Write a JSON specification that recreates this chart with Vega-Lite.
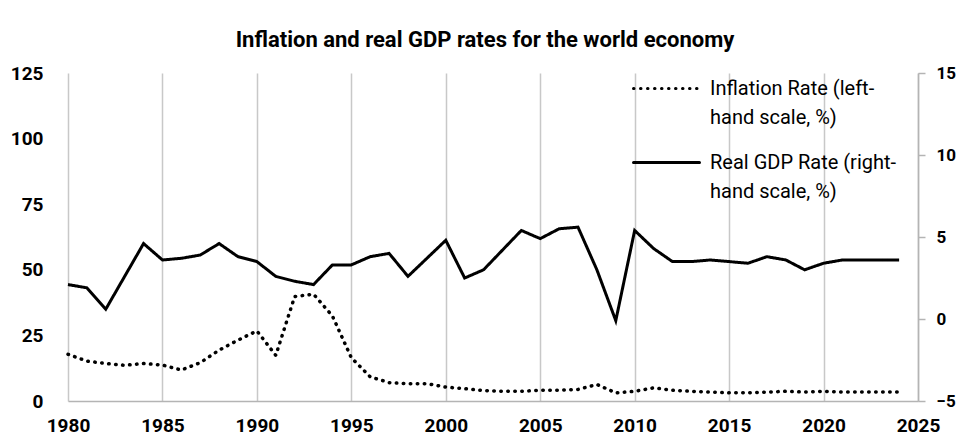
{
  "$schema": "https://vega.github.io/schema/vega-lite/v6.json",
  "width": 850,
  "height": 328,
  "autosize": {"type": "none"},
  "padding": {"left": 68, "top": 73, "right": 38, "bottom": 38},
  "background": "white",
  "title": {
    "text": "Inflation  and real GDP rates for the world economy",
    "font": "Roboto",
    "fontSize": 22,
    "fontWeight": "bold",
    "color": "black",
    "anchor": "middle",
    "dx": -8,
    "offset": 2
  },
  "data": {
    "values": [
      {"year": 1980, "inflation": 17.8, "gdp": 2.1},
      {"year": 1981, "inflation": 15.2, "gdp": 1.9},
      {"year": 1982, "inflation": 14.3, "gdp": 0.6},
      {"year": 1983, "inflation": 13.6, "gdp": 2.6},
      {"year": 1984, "inflation": 14.3, "gdp": 4.6},
      {"year": 1985, "inflation": 13.7, "gdp": 3.6},
      {"year": 1986, "inflation": 11.8, "gdp": 3.7},
      {"year": 1987, "inflation": 14.6, "gdp": 3.9},
      {"year": 1988, "inflation": 19.4, "gdp": 4.6},
      {"year": 1989, "inflation": 23.2, "gdp": 3.8},
      {"year": 1990, "inflation": 26.7, "gdp": 3.5},
      {"year": 1991, "inflation": 17.4, "gdp": 2.6},
      {"year": 1992, "inflation": 39.8, "gdp": 2.3},
      {"year": 1993, "inflation": 40.7, "gdp": 2.1},
      {"year": 1994, "inflation": 32.4, "gdp": 3.3},
      {"year": 1995, "inflation": 16.5, "gdp": 3.3},
      {"year": 1996, "inflation": 9.2, "gdp": 3.8},
      {"year": 1997, "inflation": 7.0, "gdp": 4.0},
      {"year": 1998, "inflation": 6.6, "gdp": 2.6},
      {"year": 1999, "inflation": 6.6, "gdp": 3.7},
      {"year": 2000, "inflation": 5.3, "gdp": 4.8},
      {"year": 2001, "inflation": 4.7, "gdp": 2.5},
      {"year": 2002, "inflation": 4.0, "gdp": 3.0},
      {"year": 2003, "inflation": 3.7, "gdp": 4.2},
      {"year": 2004, "inflation": 3.7, "gdp": 5.4},
      {"year": 2005, "inflation": 4.1, "gdp": 4.9},
      {"year": 2006, "inflation": 4.1, "gdp": 5.5},
      {"year": 2007, "inflation": 4.4, "gdp": 5.6},
      {"year": 2008, "inflation": 6.3, "gdp": 3.0},
      {"year": 2009, "inflation": 3.1, "gdp": -0.1},
      {"year": 2010, "inflation": 3.7, "gdp": 5.4},
      {"year": 2011, "inflation": 5.0, "gdp": 4.3},
      {"year": 2012, "inflation": 4.1, "gdp": 3.5},
      {"year": 2013, "inflation": 3.7, "gdp": 3.5},
      {"year": 2014, "inflation": 3.4, "gdp": 3.6},
      {"year": 2015, "inflation": 3.1, "gdp": 3.5},
      {"year": 2016, "inflation": 3.1, "gdp": 3.4},
      {"year": 2017, "inflation": 3.4, "gdp": 3.8},
      {"year": 2018, "inflation": 3.7, "gdp": 3.6},
      {"year": 2019, "inflation": 3.4, "gdp": 3.0},
      {"year": 2020, "inflation": 3.7, "gdp": 3.4},
      {"year": 2021, "inflation": 3.4, "gdp": 3.6},
      {"year": 2022, "inflation": 3.4, "gdp": 3.6},
      {"year": 2023, "inflation": 3.4, "gdp": 3.6},
      {"year": 2024, "inflation": 3.4, "gdp": 3.6}
    ]
  },
  "encoding": {
    "x": {
      "field": "year",
      "type": "quantitative",
      "scale": {"domain": [1980, 2025], "nice": false, "zero": false},
      "axis": {
        "title": null,
        "values": [1980, 1985, 1990, 1995, 2000, 2005, 2010, 2015, 2020, 2025],
        "format": "d",
        "grid": true,
        "gridColor": "#c8c8c8",
        "gridWidth": 1.5,
        "domain": true,
        "domainColor": "#b4b4b4",
        "domainWidth": 1.5,
        "ticks": false,
        "labelPadding": 15,
        "labelFont": "Roboto",
        "labelFontSize": 19,
        "labelFontWeight": "bold",
        "labelColor": "black",
        "labelFlush": false,
        "labelOverlap": false
      }
    }
  },
  "layer": [
    {
      "mark": {"type": "line", "color": "black", "strokeWidth": 3.5, "strokeCap": "round"},
      "encoding": {
        "y": {
          "field": "inflation",
          "type": "quantitative",
          "scale": {"domain": [0, 125], "nice": false},
          "axis": {
            "title": null,
            "orient": "left",
            "values": [0, 25, 50, 75, 100, 125],
            "grid": false,
            "domain": false,
            "ticks": false,
            "labelPadding": 25,
            "labelFont": "Roboto",
            "labelFontSize": 19,
            "labelFontWeight": "bold",
            "labelColor": "black",
            "labelFlush": false,
            "labelOverlap": false
          }
        },
        "strokeDash": {
          "datum": "Inflation Rate (left-hand scale, %)",
          "type": "nominal",
          "scale": {
            "domain": ["Inflation Rate (left-hand scale, %)", "Real GDP Rate (right-hand scale, %)"],
            "range": [[0.5, 6.5], [1, 0]]
          },
          "legend": {
            "orient": "none",
            "legendX": 564,
            "legendY": -19,
            "title": null,
            "padding": 0,
            "symbolType": "stroke",
            "symbolSize": 4356,
            "symbolStrokeWidth": 3,
            "symbolStrokeColor": "black",
            "labelFont": "Roboto",
            "labelFontSize": 20,
            "labelColor": "black",
            "labelOffset": 9,
            "labelLimit": 0,
            "rowPadding": 0,
            "labelExpr": "datum.label == 'Inflation Rate (left-hand scale, %)' ? ['Inflation Rate (left-', 'hand scale, %)'] : ['Real GDP Rate (right-', 'hand scale, %)']",
            "encode": {
              "labels": {"update": {"lineHeight": {"value": 29}}},
              "symbols": {"update": {"strokeCap": {"value": "round"}}}
            }
          }
        }
      }
    },
    {
      "mark": {"type": "line", "color": "black", "strokeWidth": 3, "strokeJoin": "miter"},
      "encoding": {
        "y": {
          "field": "gdp",
          "type": "quantitative",
          "scale": {"domain": [-5, 15], "nice": false, "zero": false},
          "axis": {
            "title": null,
            "orient": "right",
            "values": [-5, 0, 5, 10, 15],
            "grid": false,
            "domain": true,
            "domainColor": "#b4b4b4",
            "domainWidth": 1.5,
            "ticks": true,
            "tickColor": "#b4b4b4",
            "tickWidth": 1.5,
            "tickSize": 7,
            "labelPadding": 11,
            "labelAlign": "left",
            "labelFont": "Roboto",
            "labelFontSize": 17,
            "labelFontWeight": "bold",
            "labelColor": "black",
            "labelFlush": false,
            "labelOverlap": false
          }
        },
        "strokeDash": {"datum": "Real GDP Rate (right-hand scale, %)", "type": "nominal"}
      }
    }
  ],
  "resolve": {"scale": {"y": "independent"}},
  "config": {
    "view": {"stroke": null}
  }
}
